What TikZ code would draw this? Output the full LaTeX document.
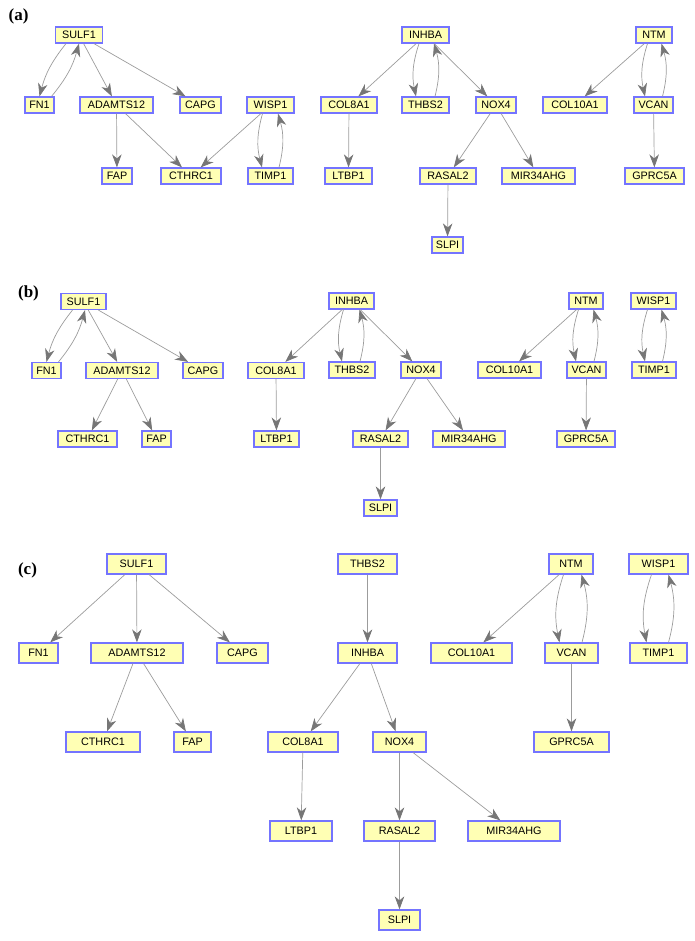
\documentclass[tikz,border=0pt]{standalone}
\usepackage{fontspec}
\usepackage{tikz}
\usetikzlibrary{arrows.meta}
\newfontfamily\genefont{Liberation Sans}
\newfontfamily\panelfont{Liberation Serif}
\definecolor{boxfill}{HTML}{FFFFB4}
\definecolor{boxline}{HTML}{7474FF}
\definecolor{relgray}{HTML}{9C9C9C}
\definecolor{tipgray}{HTML}{767676}
\begin{document}
\begin{tikzpicture}[
    x=1pt, y=1pt,
    gene/.style={draw=boxline, fill=boxfill, line width=1.2pt, inner sep=0pt,
      minimum height=16pt, minimum width=#1, font=\genefont\fontsize{10.8}{12}\selectfont},
    bigene/.style={gene=#1, minimum height=20pt},
    rel/.style={draw=relgray, line width=0.7pt,
      -{Stealth[length=13pt,width=9.5pt,inset=4pt,fill=tipgray,color=tipgray]}},
    tag/.style={font=\panelfont\bfseries\fontsize{17}{17}\selectfont}
]
\useasboundingbox (0,0) rectangle (694,-941);

% (a)
\node[tag] (ta) at (18.5,-16) {(a)};
\node[gene=47] (aSULF1) at (79,-35) {SULF1};
\node[gene=29] (aFN1) at (39.5,-105) {FN1};
\node[gene=73] (aADAM) at (116.5,-105) {ADAMTS12};
\node[gene=41] (aCAPG) at (200.5,-105) {CAPG};
\node[gene=47] (aWISP1) at (270.5,-105) {WISP1};
\node[gene=30] (aFAP) at (117,-176) {FAP};
\node[gene=60] (aCTHRC1) at (191,-176) {CTHRC1};
\node[gene=45] (aTIMP1) at (270.5,-176) {TIMP1};
\node[gene=47] (aINHBA) at (425.5,-35) {INHBA};
\node[gene=56] (aCOL8A1) at (349,-105) {COL8A1};
\node[gene=47] (aTHBS2) at (425.5,-105) {THBS2};
\node[gene=40] (aNOX4) at (496,-105) {NOX4};
\node[gene=47] (aLTBP1) at (348.5,-176) {LTBP1};
\node[gene=56] (aRASAL2) at (448,-176) {RASAL2};
\node[gene=73] (aMIR) at (538.5,-176) {MIR34AHG};
\node[gene=31] (aSLPI) at (447.5,-245) {SLPI};
\node[gene=36] (aNTM) at (654,-35) {NTM};
\node[gene=64] (aCOL10A1) at (575,-105) {COL10A1};
\node[gene=39] (aVCAN) at (653.5,-105) {VCAN};
\node[gene=59] (aGPRC5A) at (654.5,-176) {GPRC5A};

\foreach \s/\t in {aSULF1/aADAM, aSULF1/aCAPG, aADAM/aFAP, aADAM/aCTHRC1,
    aWISP1/aCTHRC1, aINHBA/aCOL8A1, aINHBA/aNOX4, aCOL8A1/aLTBP1,
    aNOX4/aRASAL2, aNOX4/aMIR, aRASAL2/aSLPI, aNTM/aCOL10A1, aVCAN/aGPRC5A}
  \draw[rel] (\s) -- (\t);
\draw[rel] ([xshift=-13]aSULF1.south) to[bend right=12] (aFN1.north);
\draw[rel] ([xshift=12]aFN1.north) to[bend right=12] (aSULF1.south);
\draw[rel] ([xshift=-8]aWISP1.south) to[bend right=15] ([xshift=-8.5]aTIMP1.north);
\draw[rel] ([xshift=8.5]aTIMP1.north) to[bend right=15] ([xshift=7.5]aWISP1.south);
\draw[rel] ([xshift=-6.5]aINHBA.south) to[bend right=15] ([xshift=-9.5]aTHBS2.north);
\draw[rel] ([xshift=9.5]aTHBS2.north) to[bend right=15] ([xshift=8.5]aINHBA.south);
\draw[rel] ([xshift=-6.5]aNTM.south) to[bend right=15] ([xshift=-8.5]aVCAN.north);
\draw[rel] ([xshift=9]aVCAN.north) to[bend right=15] ([xshift=7.5]aNTM.south);

% (b)
\node[tag] (tb) at (28.5,-293) {(b)};
\node[gene=45] (bSULF1) at (83.5,-301.5) {SULF1};
\node[gene=29] (bFN1) at (46.5,-370.5) {FN1};
\node[gene=72] (bADAM) at (122,-370.5) {ADAMTS12};
\node[gene=40] (bCAPG) at (203,-370.5) {CAPG};
\node[gene=59] (bCTHRC1) at (87.5,-439) {CTHRC1};
\node[gene=29] (bFAP) at (156.5,-439) {FAP};
\node[gene=45] (bINHBA) at (351.5,-301) {INHBA};
\node[gene=56] (bCOL8A1) at (276,-370.5) {COL8A1};
\node[gene=46] (bTHBS2) at (352,-370) {THBS2};
\node[gene=40] (bNOX4) at (421,-370) {NOX4};
\node[gene=45] (bLTBP1) at (276.5,-439) {LTBP1};
\node[gene=55] (bRASAL2) at (380.5,-439) {RASAL2};
\node[gene=72] (bMIR) at (469,-439) {MIR34AHG};
\node[gene=33] (bSLPI) at (380.5,-508) {SLPI};
\node[gene=34] (bNTM) at (586,-301) {NTM};
\node[gene=63] (bCOL10A1) at (509.5,-370) {COL10A1};
\node[gene=39] (bVCAN) at (586.5,-370) {VCAN};
\node[gene=58] (bGPRC5A) at (586,-439) {GPRC5A};
\node[gene=45] (bWISP1) at (653.5,-301) {WISP1};
\node[gene=44] (bTIMP1) at (654,-370) {TIMP1};

\foreach \s/\t in {bSULF1/bADAM, bSULF1/bCAPG, bADAM/bCTHRC1, bADAM/bFAP,
    bINHBA/bCOL8A1, bINHBA/bNOX4, bCOL8A1/bLTBP1, bNOX4/bRASAL2, bNOX4/bMIR,
    bRASAL2/bSLPI, bNTM/bCOL10A1, bVCAN/bGPRC5A}
  \draw[rel] (\s) -- (\t);
\draw[rel] ([xshift=-11]bSULF1.south) to[bend right=12] (bFN1.north);
\draw[rel] ([xshift=12]bFN1.north) to[bend right=12] ([xshift=1.5]bSULF1.south);
\draw[rel] ([xshift=-8]bINHBA.south) to[bend right=15] ([xshift=-10]bTHBS2.north);
\draw[rel] ([xshift=8]bTHBS2.north) to[bend right=15] ([xshift=8]bINHBA.south);
\draw[rel] ([xshift=-7.5]bNTM.south) to[bend right=15] ([xshift=-10.5]bVCAN.north);
\draw[rel] ([xshift=7.5]bVCAN.north) to[bend right=15] ([xshift=7.5]bNTM.south);
\draw[rel] ([xshift=-6]bWISP1.south) to[bend right=15] ([xshift=-9]bTIMP1.north);
\draw[rel] ([xshift=8.5]bTIMP1.north) to[bend right=15] ([xshift=8]bWISP1.south);

% (c)
\node[tag] (tc) at (27.5,-570.5) {(c)};
\node[bigene=59] (cSULF1) at (136.5,-564) {SULF1};
\node[bigene=39] (cFN1) at (38.5,-653) {FN1};
\node[bigene=92] (cADAM) at (137,-653) {ADAMTS12};
\node[bigene=51] (cCAPG) at (242.5,-653) {CAPG};
\node[bigene=74] (cCTHRC1) at (103,-742) {CTHRC1};
\node[bigene=37] (cFAP) at (192.5,-742) {FAP};
\node[bigene=59] (cTHBS2) at (367.5,-564) {THBS2};
\node[bigene=59] (cINHBA) at (367.5,-653) {INHBA};
\node[bigene=70] (cCOL8A1) at (303,-742) {COL8A1};
\node[bigene=53] (cNOX4) at (399.5,-742) {NOX4};
\node[bigene=62] (cLTBP1) at (301,-831) {LTBP1};
\node[bigene=71] (cRASAL2) at (399.5,-831) {RASAL2};
\node[bigene=92] (cMIR) at (514,-831) {MIR34AHG};
\node[bigene=41] (cSLPI) at (399.5,-920) {SLPI};
\node[bigene=44] (cNTM) at (571,-564) {NTM};
\node[bigene=81] (cCOL10A1) at (471.5,-653) {COL10A1};
\node[bigene=53] (cVCAN) at (571.5,-653) {VCAN};
\node[bigene=75] (cGPRC5A) at (571.5,-742) {GPRC5A};
\node[bigene=59] (cWISP1) at (658.5,-564) {WISP1};
\node[bigene=57] (cTIMP1) at (658.5,-653) {TIMP1};

\foreach \s/\t in {cSULF1/cFN1, cSULF1/cADAM, cSULF1/cCAPG, cADAM/cCTHRC1,
    cADAM/cFAP, cTHBS2/cINHBA, cINHBA/cCOL8A1, cINHBA/cNOX4, cCOL8A1/cLTBP1,
    cNOX4/cRASAL2, cNOX4/cMIR, cRASAL2/cSLPI, cNTM/cCOL10A1, cVCAN/cGPRC5A}
  \draw[rel] (\s) -- (\t);
\draw[rel] ([xshift=-7.5]cNTM.south) to[bend right=15] ([xshift=-12]cVCAN.north);
\draw[rel] ([xshift=10.5]cVCAN.north) to[bend right=15] ([xshift=10.5]cNTM.south);
\draw[rel] ([xshift=-7]cWISP1.south) to[bend right=15] ([xshift=-12]cTIMP1.north);
\draw[rel] ([xshift=10]cTIMP1.north) to[bend right=15] ([xshift=10]cWISP1.south);
\end{tikzpicture}
\end{document}
